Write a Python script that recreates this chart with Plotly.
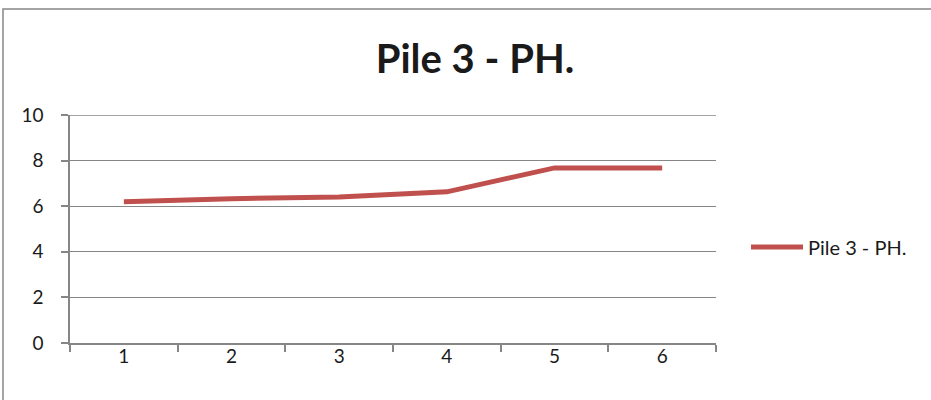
import plotly.graph_objects as go

categories = ["1", "2", "3", "4", "5", "6"]
ph_values = [6.2, 6.33, 6.4, 6.63, 7.68, 7.68]
series_name = "Pile 3 - PH."
y_ticks = [0, 2, 4, 6, 8, 10]

W, H = 931, 400
L, R, T, B = 70, 215, 115, 57
pw, ph = W - L - R, H - T - B

fig = go.Figure()
fig.add_trace(go.Scatter(
    x=categories, y=ph_values, mode="lines", name=series_name,
    line=dict(color="#C0504D", width=5),
))

fig.update_layout(
    width=W, height=H,
    margin=dict(l=L, r=R, t=T, b=B),
    paper_bgcolor="white", plot_bgcolor="white",
    font=dict(family="Lato", size=19, color="#1a1a1a"),
    title=dict(text="<b>Pile 3 - PH.</b>", x=475 / W, xanchor="center",
               y=1 - 59 / H, yanchor="middle",
               font=dict(family="Lato", size=40, color="#1a1a1a")),
    showlegend=True,
    legend=dict(x=(746 - L) / pw, xanchor="left", y=(343 - 247) / ph, yanchor="middle",
                itemwidth=52,
                font=dict(family="Lato", size=20, color="#1a1a1a"),
                bgcolor="rgba(0,0,0,0)"),
    xaxis=dict(type="category", tickson="boundaries", ticks="outside", ticklen=7,
               tickcolor="#868686", tickwidth=1.5, showline=True, linecolor="#868686",
               linewidth=1.5, showgrid=False, range=[-0.5, 5.5],
               ticklabelstandoff=-5, tickfont=dict(size=19)),
    yaxis=dict(range=[0, 10], tickvals=y_ticks, ticks="outside", ticklen=7,
               tickcolor="#868686", tickwidth=1.5, showline=True, linecolor="#868686",
               linewidth=1.5, showgrid=True, gridcolor="#868686", gridwidth=1.4,
               zeroline=False, ticklabelstandoff=14, tickfont=dict(size=19)),
    shapes=[
        dict(type="rect", xref="paper", yref="paper",
             x0=(3 - L) / pw, x1=(W + 20 - L) / pw,
             y0=-(H + 20 - (T + ph)) / ph, y1=(T + ph - 9) / ph,
             line=dict(color="#868686", width=1.5)),
        dict(type="line", xref="paper", yref="y", x0=0, x1=1, y0=10, y1=10,
             line=dict(color="#868686", width=1.4)),
    ],
)

fig.write_html("out.html", config={"displayModeBar": False},
               post_script="document.body.style.margin='0';")
